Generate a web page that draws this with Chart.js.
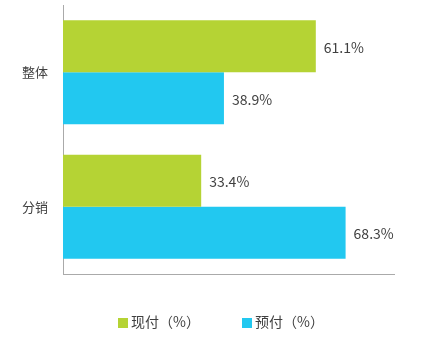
<!DOCTYPE html>
<html>
<head>
<meta charset="utf-8">
<script src="https://cdn.jsdelivr.net/npm/chart.js@4"></script>
<style>
    html, body { margin: 0; padding: 0; background: #fff; }
    #wrap { position: relative; width: 422px; height: 341px; }
    #legend { position: absolute; left: 0; top: 311px; width: 422px; height: 20px; font: 14px 'Noto Sans CJK SC', sans-serif; color: #404040; }
    .item { position: absolute; top: 0; line-height: 20px; white-space: nowrap; }
    .box { display: inline-block; width: 10px; height: 10px; margin-right: 3px; vertical-align: -1px; }
</style>
</head>
<body>
<div id="wrap"><canvas id="chart"></canvas><div id="legend"></div></div>
<script>
const categories = ["整体", "分销"];
const seriesNames = ["现付（%）", "预付（%）"];
const xianfu = [61.1, 33.4];
const yufu = [38.9, 68.3];
const seriesColors = ["#B5D334", "#22C8F0"];

const fontFamily = "'Noto Sans CJK SC', 'Open Sans', sans-serif";

// draws value labels to the right of each bar
const valueLabels = {
    id: "valueLabels",
    afterDatasetsDraw(chart) {
        const ctx = chart.ctx;
        ctx.save();
        ctx.font = "14px " + fontFamily;
        ctx.fillStyle = "#404040";
        ctx.textAlign = "left";
        ctx.textBaseline = "middle";
        chart.data.datasets.forEach((ds, i) => {
            chart.getDatasetMeta(i).data.forEach((bar, j) => {
                ctx.fillText(ds.data[j].toFixed(1) + "%", bar.x + 8, bar.y + 1);
            });
        });
        ctx.restore();
    }
};

// simple html legend, the chart.js one can't space the items like the original
const legendEl = document.getElementById("legend");
const legendLeft = [118, 242];
seriesNames.forEach((name, i) => {
    const item = document.createElement("div");
    item.className = "item";
    item.style.left = legendLeft[i] + "px";
    const box = document.createElement("span");
    box.className = "box";
    box.style.background = seriesColors[i];
    item.appendChild(box);
    item.appendChild(document.createTextNode(name));
    legendEl.appendChild(item);
});

new Chart(document.getElementById("chart"), {
    type: "bar",
    data: {
        labels: categories,
        datasets: [
            { label: seriesNames[0], data: xianfu, backgroundColor: seriesColors[0] },
            { label: seriesNames[1], data: yufu, backgroundColor: seriesColors[1] }
        ]
    },
    options: {
        indexAxis: "y",
        responsive: true,
        maintainAspectRatio: false,
        animation: false,
        layout: { padding: { top: 5, right: 28, left: 0, bottom: 0 } },
        datasets: { bar: { categoryPercentage: 0.775, barPercentage: 1 } },
        scales: {
            x: {
                min: 0,
                max: 80,
                grid: { display: false, drawTicks: false },
                border: { color: "#aaaaaa", width: 1 },
                ticks: { display: false },
                afterFit(scale) {
                    scale.height = 67;
                    scale.paddingTop = 0;
                    scale.paddingBottom = 0;
                }
            },
            y: {
                grid: { display: false, drawTicks: false },
                border: { color: "#aaaaaa", width: 1 },
                ticks: { color: "#404040", font: { family: fontFamily, size: 13 }, padding: 15 },
                afterFit(scale) {
                    scale.width = 63;
                    scale.paddingTop = 0;
                    scale.paddingBottom = 0;
                }
            }
        },
        plugins: {
            legend: { display: false },
            tooltip: { enabled: false }
        }
    },
    plugins: [valueLabels]
});
</script>
</body>
</html>
